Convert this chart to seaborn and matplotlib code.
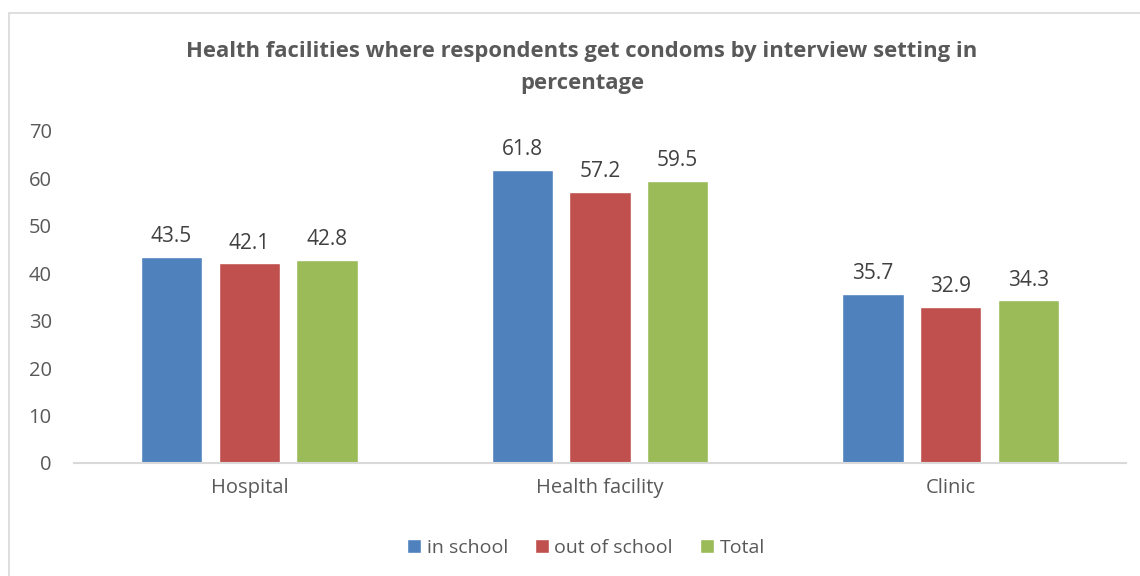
import matplotlib
matplotlib.use("Agg")
import matplotlib.pyplot as plt
import seaborn as sns
import pandas as pd
from matplotlib.patches import Rectangle

categories = ["Hospital", "Health facility", "Clinic"]
series_names = ["in school", "out of school", "Total"]
in_school = [43.5, 61.8, 35.7]
out_of_school = [42.1, 57.2, 32.9]
total = [42.8, 59.5, 34.3]
colors = ["#4F81BD", "#C0504D", "#9BBB59"]

rows = []
for name, vals in zip(series_names, [in_school, out_of_school, total]):
    for c, v in zip(categories, vals):
        rows.append({"Facility": c, "Setting": name, "Value": v})
df = pd.DataFrame(rows)

sns.set_theme(style="white")
plt.rcParams['font.family'] = ['Open Sans', 'DejaVu Sans']
text_color = "#595959"

fig = plt.figure(figsize=(11.4, 5.76), dpi=100)
ax = fig.add_axes([74/1140, 1-463/576, (1126-74)/1140, (463-131)/576])

sns.barplot(data=df, x="Facility", y="Value", hue="Setting", order=categories,
            hue_order=series_names, palette=colors, width=0.665, gap=0.21,
            saturation=1, ax=ax, legend=True)

for cont in ax.containers:
    ax.bar_label(cont, labels=[f"{v:.1f}" for v in cont.datavalues], padding=7,
                 fontsize=15, color="#404040")

ax.set_ylim(0, 70)
ax.set_yticks(range(0, 71, 10))
ax.set_xlabel("")
ax.set_ylabel("")
for s in ["top", "right", "left"]:
    ax.spines[s].set_visible(False)
ax.spines["bottom"].set_color("#d9d9d9")
ax.spines["bottom"].set_linewidth(1.5)
ax.tick_params(axis="both", length=0, labelsize=14.5, colors=text_color)
ax.tick_params(axis="x", pad=11)
ax.tick_params(axis="y", pad=16)

leg = ax.legend(loc="center", bbox_to_anchor=(586/1140, 1-548/576),
                bbox_transform=fig.transFigure, ncol=3, frameon=False,
                fontsize=14, handlelength=0.7, handleheight=0.7,
                handletextpad=0.3, columnspacing=1.4)
for t in leg.get_texts():
    t.set_color(text_color)

fig.text(582/1140, 1-52/576, "Health facilities where respondents get condoms by interview setting in",
         ha="center", va="center", fontsize=15.8, fontweight="bold", color=text_color)
fig.text(582/1140, 1-84/576, "percentage",
         ha="center", va="center", fontsize=15.8, fontweight="bold", color=text_color)

fig.patches.append(Rectangle((9/1140, -0.1), 1.2, 1.1 - 13/576, transform=fig.transFigure,
                             fill=False, edgecolor="#d9d9d9", linewidth=1.2))

fig.savefig("out.png", dpi=100)
